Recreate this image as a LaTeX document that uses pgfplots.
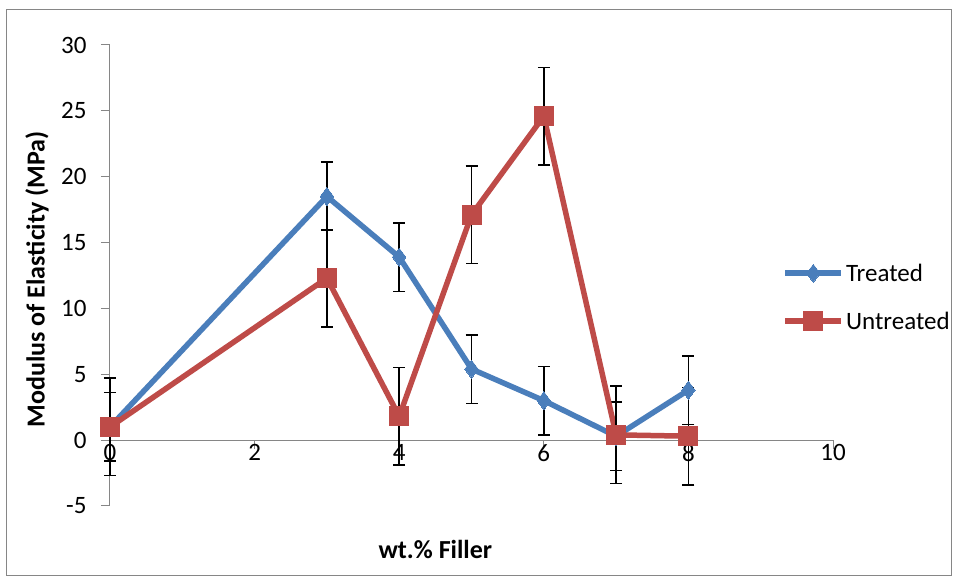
\documentclass[border=0pt]{standalone}
\usepackage{pgfplots}
\pgfplotsset{compat=1.18}
\usepackage{fontspec}
\setmainfont{Carlito}

\definecolor{treated}{HTML}{4A7EBB}
\definecolor{untreated}{HTML}{BE4B48}
\definecolor{axisgray}{HTML}{868686}

\begin{document}
\begin{tikzpicture}
\begin{axis}[
    scale only axis,
    width=723pt, height=461pt,
    xmin=0, xmax=10, ymin=-5, ymax=30,
    enlargelimits=false,
    clip=false,
    axis x line=middle, axis y line=left,
    axis line style={draw=axisgray, line width=1pt, -},
    tick style={draw=axisgray, line width=1pt},
    tick align=outside,
    major tick length=9pt,
    xtick={0,2,...,10}, ytick={-5,0,...,30},
    hide obscured x ticks=false, hide obscured y ticks=false,
    /pgf/number format/assume math mode=true,
    ticklabel style={font=\fontsize{25}{30}\selectfont, black},
    xticklabel style={yshift=8pt},
    yticklabel style={xshift=-11pt},
    every axis x label/.style={at={(axis cs:4.5,-8.3)}, anchor=center},
    every axis y label/.style={at={(axis cs:-1.01,12.2)}, rotate=90, anchor=center},
    label style={font=\fontsize{26}{31}\selectfont\bfseries},
    xlabel={wt.\% Filler},
    ylabel={Modulus of Elasticity (MPa)},
    legend style={at={(rel axis cs:0.93,0.453)}, anchor=west, draw=none, fill=none,
        font=\fontsize{25}{30}\selectfont, row sep=25pt, inner sep=0pt},
    legend cell align=left,
    legend image code/.code={
        \draw[mark repeat=2, mark phase=2] plot coordinates {(0pt,0pt) (28pt,0pt) (56pt,0pt)};
    },
    error bars/error bar style={black, line width=1.5pt},
    error bars/error mark options={rotate=90, mark size=6pt, black, line width=1.5pt},
]
\addplot[treated, line width=5.5pt, mark=diamond*, mark size=9pt,
    mark options={line width=0pt},
    error bars/.cd, y dir=both, y explicit]
  table[x=x, y=y, y error=e] {
    x y e
    0 1.0 2.6
    3 18.5 2.6
    4 13.9 2.6
    5 5.4 2.6
    6 3.0 2.6
    7 0.3 2.6
    8 3.8 2.6
  };
\addlegendentry{Treated}
\addplot[untreated, line width=5.5pt, mark=square*, mark size=9.5pt,
    mark options={line width=0pt},
    error bars/.cd, y dir=both, y explicit]
  table[x=x, y=y, y error=e] {
    x y e
    0 1.0 3.7
    3 12.3 3.7
    4 1.8 3.7
    5 17.1 3.7
    6 24.6 3.7
    7 0.4 3.7
    8 0.3 3.7
  };
\addlegendentry{Untreated}
\end{axis}
\draw[axisgray, line width=1pt] ([shift={(-103pt,-70pt)}]current axis.south west)
    rectangle ([shift={(118pt,35pt)}]current axis.north east);
\path ([shift={(-110pt,-71pt)}]current axis.south west)
    rectangle ([shift={(122pt,45pt)}]current axis.north east);
\end{tikzpicture}
\end{document}
